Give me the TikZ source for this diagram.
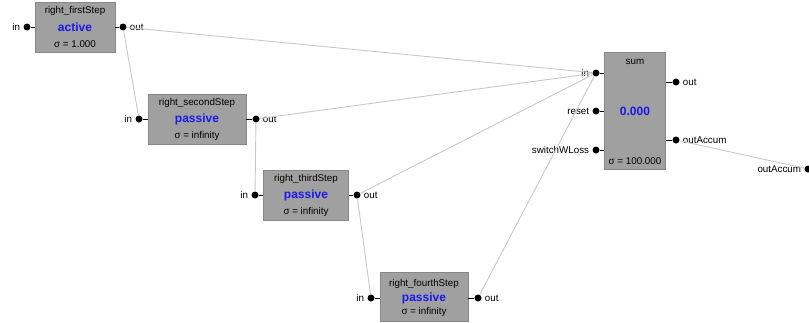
\documentclass[tikz,border=0pt]{standalone}
\usepackage{fontspec}
\setmainfont{Liberation Sans}

\definecolor{boxgray}{RGB}{160,160,160}
\definecolor{boxline}{RGB}{135,135,135}
\definecolor{stateblue}{RGB}{25,25,235}
\definecolor{wiregray}{RGB}{200,200,200}

\begin{document}
\begin{tikzpicture}[x=1pt,y=-1pt,
  box/.style={draw=boxline, fill=boxgray, inner sep=0pt},
  port/.style={circle, fill=black, inner sep=0pt, minimum size=7pt},
  small/.style={font=\fontsize{9.8}{11}\selectfont, inner sep=1pt},
  plabel/.style={font=\fontsize{9.8}{11}\selectfont, inner sep=3pt},
  state/.style={font=\fontsize{12}{13}\selectfont\bfseries, text=stateblue, inner sep=0pt},
  wire/.style={draw=wiregray, line width=0.9pt},
  stub/.style={draw=black, line width=0.8pt}]
  \clip (0,0) rectangle (809,322);
  \useasboundingbox (0,0) rectangle (809,322);

  \node[box, minimum width=80pt, minimum height=50pt] (first) at (75,27) {};
  \node[small] (firstname) at (75,11) {right\_firstStep};
  \node[state] (firststate) at (75,27) {active};
  \node[small] (firstsigma) at (75,44) {σ = 1.000};

  \node[box, minimum width=98pt, minimum height=50pt] (second) at (197,119) {};
  \node[small] (secondname) at (197,103) {right\_secondStep};
  \node[state] (secondstate) at (197,119) {passive};
  \node[small] (secondsigma) at (197,136) {σ = infinity};

  \node[box, minimum width=85pt, minimum height=50pt] (third) at (306,195) {};
  \node[small] (thirdname) at (306,179) {right\_thirdStep};
  \node[state] (thirdstate) at (306,195) {passive};
  \node[small] (thirdsigma) at (306,212) {σ = infinity};

  \node[box, minimum width=88pt, minimum height=49pt] (fourth) at (424,297) {};
  \node[small] (fourthname) at (424,284) {right\_fourthStep};
  \node[state] (fourthstate) at (424,298) {passive};
  \node[small] (fourthsigma) at (424,312) {σ = infinity};

  \node[box, minimum width=61pt, minimum height=117pt] (sum) at (635,111) {};
  \node[small] (sumname) at (635,62) {sum};
  \node[state] (sumstate) at (635,111) {0.000};
  \node[small] (sumsigma) at (635,161) {σ = 100.000};

  \node[port] (firstin) at (27,27) {};
  \node[port] (firstout) at (123,27) {};
  \node[port] (secondin) at (139,119) {};
  \node[port] (secondout) at (256,119) {};
  \node[port] (thirdin) at (255,195) {};
  \node[port] (thirdout) at (357,195) {};
  \node[port] (fourthin) at (371,298) {};
  \node[port] (fourthout) at (478,298) {};
  \node[port] (sumin) at (596,73) {};
  \node[port] (sumreset) at (596,111) {};
  \node[port] (sumswitch) at (596,150) {};
  \node[port] (sumout) at (676,82) {};
  \node[port] (sumaccum) at (676,140) {};
  \node[port] (extaccum) at (808,169) {};

  \node[plabel, left] (firstinlabel) at (firstin.west) {in};
  \node[plabel, right] (firstoutlabel) at (firstout.east) {out};
  \node[plabel, left] (secondinlabel) at (secondin.west) {in};
  \node[plabel, right] (secondoutlabel) at (secondout.east) {out};
  \node[plabel, left] (thirdinlabel) at (thirdin.west) {in};
  \node[plabel, right] (thirdoutlabel) at (thirdout.east) {out};
  \node[plabel, left] (fourthinlabel) at (fourthin.west) {in};
  \node[plabel, right] (fourthoutlabel) at (fourthout.east) {out};
  \node[plabel, left] (suminlabel) at (sumin.west) {in};
  \node[plabel, left] (sumresetlabel) at (sumreset.west) {reset};
  \node[plabel, left] (sumswitchlabel) at (sumswitch.west) {switchWLoss};
  \node[plabel, right] (sumoutlabel) at (sumout.east) {out};
  \node[plabel, right] (sumaccumlabel) at (sumaccum.east) {outAccum};
  \node[plabel, left] (extaccumlabel) at (extaccum.west) {outAccum};

  \draw[stub] (firstin) -- (first.west |- firstin);
  \draw[stub] (firstout) -- (first.east |- firstout);
  \draw[stub] (secondin) -- (second.west |- secondin);
  \draw[stub] (secondout) -- (second.east |- secondout);
  \draw[stub] (thirdin) -- (third.west |- thirdin);
  \draw[stub] (thirdout) -- (third.east |- thirdout);
  \draw[stub] (fourthin) -- (fourth.west |- fourthin);
  \draw[stub] (fourthout) -- (fourth.east |- fourthout);
  \draw[stub] (sumin) -- (sum.west |- sumin);
  \draw[stub] (sumreset) -- (sum.west |- sumreset);
  \draw[stub] (sumswitch) -- (sum.west |- sumswitch);
  \draw[stub] (sumout) -- (sum.east |- sumout);
  \draw[stub] (sumaccum) -- (sum.east |- sumaccum);

  \draw[wire] (firstout) -- (sumin);
  \draw[wire] (firstout) -- (secondin);
  \draw[wire] (secondout) -- (sumin);
  \draw[wire] (secondout) -- (thirdin);
  \draw[wire] (thirdout) -- (sumin);
  \draw[wire] (thirdout) -- (fourthin);
  \draw[wire] (fourthout) -- (sumin);
  \draw[wire] (sumaccum) -- (extaccum);
\end{tikzpicture}
\end{document}
